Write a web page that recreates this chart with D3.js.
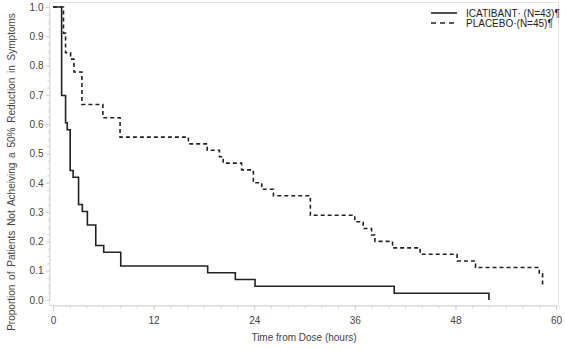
<!DOCTYPE html>
<html><head><meta charset="utf-8">
<script src="https://cdn.jsdelivr.net/npm/d3@7"></script>
<style>body{margin:0;background:#fff;}svg{display:block;font-family:"Liberation Sans",Arial,sans-serif;}</style>
</head><body><svg id="c" width="565" height="349"></svg>
<script>
// Kaplan-Meier step data: [time (hours), proportion]
const icatibantTimes = [0, 1.03, 1.5, 1.7, 2.05, 2.4, 3.05, 3.5, 4.1, 5.1, 6.05, 8.08, 18.45, 21.75, 24.1, 40.7, 52.0];
const icatibantProps = [1.0, 0.698, 0.605, 0.581, 0.442, 0.419, 0.326, 0.302, 0.256, 0.186, 0.163, 0.116, 0.093, 0.070, 0.047, 0.023, 0.0];
const placeboTimes = [0, 1.25, 1.5, 2.1, 2.5, 3.45, 5.95, 8.0, 16.15, 18.4, 19.85, 20.3, 22.5, 23.9, 24.9, 26.3, 30.7, 36.0, 37.0, 38.0, 38.4, 40.5, 43.8, 48.2, 50.4, 58.0, 58.4];
const placeboProps = [1.0, 0.911, 0.844, 0.822, 0.778, 0.667, 0.622, 0.556, 0.533, 0.511, 0.489, 0.467, 0.444, 0.400, 0.378, 0.356, 0.289, 0.267, 0.244, 0.222, 0.200, 0.178, 0.156, 0.133, 0.111, 0.089, 0.044];
const icatibantEnd = 52.0;
const placeboEnd = 58.4;
const xTicks = [0, 12, 24, 36, 48, 60];
const yTicks = [0.0, 0.1, 0.2, 0.3, 0.4, 0.5, 0.6, 0.7, 0.8, 0.9, 1.0];
const seriesNames = ["ICATIBANT\u00b7 (N=43)\u00b6", "PLACEBO\u00b7(N=45)\u00b6"];
const xTitle = "Time from Dose (hours)";
const yTitle = "Proportion of Patients Not Acheiving a 50% Reduction in Symptoms";

const svg = d3.select("#c");
const x = d3.scaleLinear().domain([0, 60]).range([53, 556]);
const y = d3.scaleLinear().domain([0, 1]).range([300, 7]);
const axisCol = "#d4d4d4", textCol = "#444", lineCol = "#222";

// frame
svg.append("rect").attr("x", 49.5).attr("y", 2.5).attr("width", 509).attr("height", 303)
  .attr("fill", "none").attr("stroke", "#e4e4e4").attr("stroke-width", 1);

// x axis
const xg = svg.append("g").attr("transform", "translate(0,305.5)");
xg.call(d3.axisBottom(x).tickValues(d3.range(0, 61, 2)).tickSize(3).tickFormat(""))
  .call(g => g.selectAll("line").attr("stroke", axisCol))
  .call(g => g.select(".domain").attr("stroke", axisCol));
xg.append("g").call(d3.axisBottom(x).tickValues(xTicks).tickSize(5).tickPadding(6).tickFormat(d3.format("d")))
  .call(g => g.select(".domain").remove())
  .call(g => g.selectAll("line").attr("stroke", axisCol))
  .call(g => g.selectAll("text").attr("fill", textCol).attr("font-size", 10).attr("font-family", "Liberation Sans, Arial, sans-serif"));

// y axis
const yg = svg.append("g").attr("transform", "translate(49.5,0)");
yg.call(d3.axisLeft(y).tickValues(d3.range(0, 1.001, 0.025)).tickSize(2).tickFormat(""))
  .call(g => g.selectAll("line").attr("stroke", axisCol))
  .call(g => g.select(".domain").attr("stroke", axisCol));
yg.append("g").call(d3.axisLeft(y).tickValues(yTicks).tickSize(4).tickPadding(2).tickFormat(d3.format(".1f")))
  .call(g => g.select(".domain").remove())
  .call(g => g.selectAll("line").attr("stroke", axisCol))
  .call(g => g.selectAll("text").attr("fill", textCol).attr("font-size", 10).attr("font-family", "Liberation Sans, Arial, sans-serif"));

// titles
svg.append("text").attr("x", 304).attr("y", 341).attr("text-anchor", "middle")
  .attr("font-size", 10).attr("fill", textCol).text(xTitle);
svg.append("text").attr("transform", "translate(15,172) rotate(-90)").attr("text-anchor", "middle")
  .attr("font-size", 10).attr("fill", textCol).attr("word-spacing", 2).text(yTitle);

// curves
function stepData(ts, ps, end) {
  const d = ts.map((t, i) => [t, ps[i]]);
  d.push([end, ps[ps.length - 1]]);
  return d;
}
const line = d3.line().x(d => x(d[0])).y(d => y(d[1])).curve(d3.curveStepAfter);
svg.append("path").datum(stepData(placeboTimes, placeboProps, placeboEnd)).attr("d", line)
  .attr("fill", "none").attr("stroke", lineCol).attr("stroke-width", 1.6).attr("stroke-dasharray", "4,3");
svg.append("path").datum(stepData(icatibantTimes, icatibantProps, icatibantEnd)).attr("d", line)
  .attr("fill", "none").attr("stroke", lineCol).attr("stroke-width", 1.6);

// legend
const leg = svg.append("g");
[0, 1].forEach(i => {
  const yy = 13 + i * 10;
  leg.append("line").attr("x1", 431).attr("x2", 457).attr("y1", yy).attr("y2", yy)
    .attr("stroke", lineCol).attr("stroke-width", 1.6).attr("stroke-dasharray", i ? "5,4" : null);
  leg.append("text").attr("x", 466).attr("y", yy + 3.5).attr("font-size", 10).attr("fill", "#222").text(seriesNames[i]);
});
</script></body></html>
